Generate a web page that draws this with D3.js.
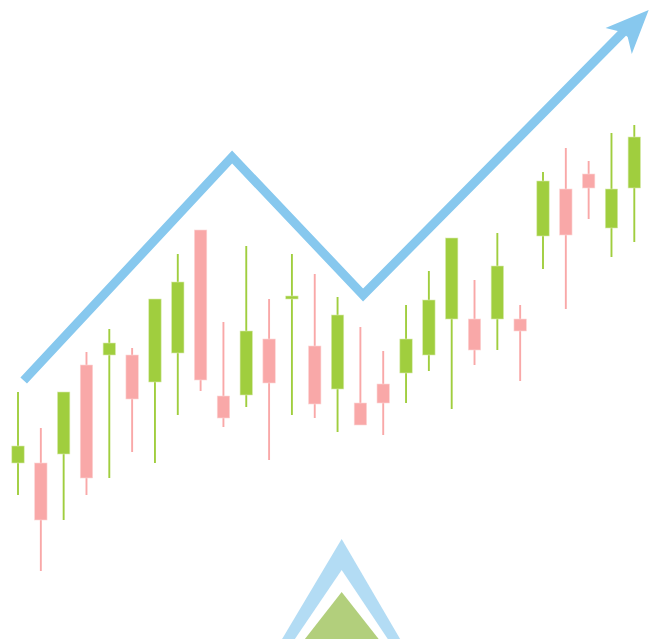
<!DOCTYPE html>
<html lang="en">
<head>
  <meta charset="UTF-8">
  <title>Candlestick trend</title>
  <script src="https://d3js.org/d3.v7.min.js"></script>
  <style>
    html, body { margin: 0; padding: 0; background: #fff; }
    svg { display: block; }
  </style>
</head>
<body>
<div id="chartContainer"></div>
<script>
  // Candle values (price = height above the bottom edge)
  const opens  = [176, 176, 185, 274, 284, 284, 257, 286, 409, 243, 244, 300, 340, 293, 250, 236, 255, 266, 284, 320, 320, 320, 320, 403, 450, 465, 411, 451];
  const closes = [193, 119, 247, 161, 296, 240, 340, 357, 259, 221, 308, 256, 343, 235, 324, 214, 236, 300, 339, 401, 289, 373, 308, 458, 404, 451, 450, 502];
  const highs  = [247, 211, 247, 287, 310, 291, 340, 385, 409, 317, 393, 340, 385, 365, 342, 312, 288, 334, 368, 401, 359, 406, 334, 467, 491, 478, 506, 514];
  const lows   = [144, 68, 119, 144, 161, 187, 176, 224, 248, 212, 232, 179, 224, 221, 207, 214, 204, 236, 268, 230, 274, 289, 258, 370, 330, 420, 382, 397];

  // Trend arrow, positions in candle index / price
  const trendIndex = [0.25, 9.38, 15.12, 26.95];
  const trendPrice = [258.5, 482, 344, 617];
  const headIndex = [27.63, 25.74, 26.45, 26.71, 26.89];
  const headPrice = [629, 611, 607, 602, 585];

  // Triangle mark at the bottom
  const outerIndex = [11.57, 14.18, 16.74];
  const outerPrice = [0, 100, 0];
  const innerIndex = [12.13, 14.18, 16.2];
  const innerPrice = [0, 69, 0];
  const greenIndex = [12.57, 14.18, 15.8];
  const greenPrice = [0, 47, 0];

  const width = 649;
  const height = 639;
  const bodyWidth = 12.4;

  const xScale = d3.scaleLinear().domain([0, 27]).range([18, 634.3]);
  const yScale = d3.scaleLinear().domain([0, 639]).range([height, 0]);

  const svg = d3.select("#chartContainer")
    .append("svg")
    .attr("width", width)
    .attr("height", height);

  const color = i => closes[i] >= opens[i] ? "#a0ce3e" : "#f9a8a8";
  const edge = i => closes[i] >= opens[i] ? "#d9ecb0" : "#fcd6d6";
  const indexes = d3.range(opens.length);

  // Wicks
  svg.selectAll(".wick")
    .data(indexes)
    .enter().append("line")
    .attr("class", "wick")
    .attr("x1", i => xScale(i))
    .attr("x2", i => xScale(i))
    .attr("y1", i => yScale(highs[i]))
    .attr("y2", i => yScale(lows[i]))
    .attr("stroke", color)
    .attr("stroke-width", 1.9);

  // Bodies
  svg.selectAll(".bar")
    .data(indexes)
    .enter().append("rect")
    .attr("class", "bar")
    .attr("x", i => xScale(i) - bodyWidth / 2)
    .attr("y", i => yScale(Math.max(opens[i], closes[i])))
    .attr("width", bodyWidth)
    .attr("height", i => Math.abs(yScale(opens[i]) - yScale(closes[i])))
    .attr("fill", color)
    .attr("stroke", edge)
    .attr("stroke-width", 0.6);

  // Trend line
  const line = d3.line()
    .x(i => xScale(trendIndex[i]))
    .y(i => yScale(trendPrice[i]));

  svg.append("path")
    .attr("d", line(d3.range(trendIndex.length)))
    .attr("fill", "none")
    .attr("stroke", "#87c8ee")
    .attr("stroke-width", 9)
    .attr("stroke-linejoin", "miter");

  const polygon = (xs, ys) => xs.map((x, i) => [xScale(x), yScale(ys[i])].join(",")).join(" ");

  svg.append("polygon")
    .attr("points", polygon(headIndex, headPrice))
    .attr("fill", "#87c8ee");

  // Bottom triangle mark
  svg.append("polygon").attr("points", polygon(outerIndex, outerPrice)).attr("fill", "#b3dcf4");
  svg.append("polygon").attr("points", polygon(innerIndex, innerPrice)).attr("fill", "#ffffff");
  svg.append("polygon").attr("points", polygon(greenIndex, greenPrice)).attr("fill", "#b2cf7c");
</script>
</body>
</html>
